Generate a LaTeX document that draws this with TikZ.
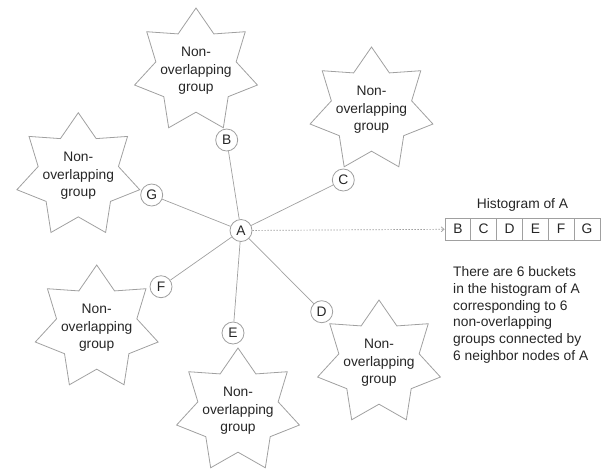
\documentclass[tikz,border=0pt]{standalone}
\usepackage{fontspec}
\setmainfont{Liberation Sans}
\usetikzlibrary{shapes.geometric,arrows.meta}
\definecolor{linegray}{HTML}{A0A0A0}
\definecolor{txt}{HTML}{262626}
\begin{document}
\begin{tikzpicture}[x=1pt,y=-1pt,
  lbl/.style={font=\fontsize{13.8}{17.5}\selectfont, text=txt},
  grp/.style={draw=linegray, line width=0.8pt, shape=star, star points=7, star point ratio=1.53, minimum size=126pt, inner sep=0pt},
  grptext/.style={lbl, align=center},
  nb/.style={circle, draw=linegray, line width=0.8pt, fill=white, minimum size=22pt, inner sep=0pt, lbl},
  edge/.style={draw=linegray, line width=0.7pt},
  cell/.style={draw=linegray, line width=0.7pt, minimum width=25.83pt, minimum height=21.7pt, inner sep=0pt, lbl}]
\useasboundingbox (0,0) rectangle (607,472);
% groups
\node[grp] (gB) at (196,71) {};
\node[grp] (gC) at (371.5,110) {};
\node[grp] (gG) at (78.3,175.7) {};
\node[grp] (gF) at (96.7,328) {};
\node[grp] (gE) at (238,411) {};
\node[grp] (gD) at (379,363) {};
\foreach \g in {gB,gC,gG,gF,gE,gD}
  \node[grptext] at (\g) {Non-\\overlapping\\group};
% nodes
\node[nb] (A) at (241,230.5) {A};
\node[nb] (B) at (226.7,140) {B};
\node[nb] (C) at (343.3,180) {C};
\node[nb] (G) at (151.7,195) {G};
\node[nb] (F) at (161,286.7) {F};
\node[nb] (E) at (233,333) {E};
\node[nb] (D) at (321.7,311.7) {D};
\foreach \n in {B,C,G,F,E,D}
  \draw[edge] (A) -- (\n);
% histogram
\node[lbl] (title) at (522.5,205) {Histogram of A};
\node[cell] (hB) at (457.9,229.2) {B};
\node[cell] (hC) at (483.7,229.2) {C};
\node[cell] (hD) at (509.6,229.2) {D};
\node[cell] (hE) at (535.4,229.2) {E};
\node[cell] (hF) at (561.2,229.2) {F};
\node[cell] (hG) at (587.1,229.2) {G};
\draw[edge, dash pattern=on 1.5pt off 1.5pt, -{Straight Barb[length=3pt,width=5pt]}] (A) -- (hB);
\node[lbl, align=left, anchor=north west, inner sep=0pt, font=\fontsize{13.8}{16.7}\selectfont] (desc) at (453,266.5)
  {There are 6 buckets\\in the histogram of A\\corresponding to 6\\non-overlapping\\groups connected by\\6 neighbor nodes of A};
\end{tikzpicture}
\end{document}
